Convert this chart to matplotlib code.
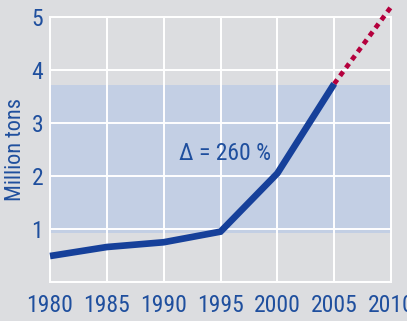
import matplotlib
matplotlib.use('Agg')
import matplotlib.pyplot as plt

years = [1980, 1985, 1990, 1995, 2000, 2005]
tons = [0.49, 0.66, 0.75, 0.95, 2.05, 3.74]
proj_years = [2005, 2010]
proj_tons = [3.74, 5.19]
band = [0.92, 3.72]
tick_years = [1980, 1985, 1990, 1995, 2000, 2005, 2010]
tick_vals = [1, 2, 3, 4, 5]

bg = '#dcdde0'
blue = '#16409a'
txt = '#1f4f9e'
fs = 17

plt.rcParams['font.family'] = ['Roboto Condensed', 'Archivo Narrow', 'PT Sans Narrow', 'DejaVu Sans']

fig = plt.figure(figsize=(4.07, 3.21), dpi=100, facecolor=bg)
ax = fig.add_axes([0.1229, 0.1215, 0.8378, 0.8255])
ax.set_facecolor(bg)
for s in ax.spines.values():
    s.set_visible(False)

ax.set_xlim(1980, 2010)
ax.set_ylim(0, 5)

# shaded band
ax.axhspan(band[0], band[1], color='#c3cfe4', zorder=1, lw=0)

# grid
for y in range(0, 6):
    ax.axhline(y, color='white', lw=1.4, zorder=2, clip_on=False)
for x in tick_years:
    ax.axvline(x, color='white', lw=1.4, zorder=2, clip_on=False)

ax.plot(years, tons, color=blue, lw=4.8, solid_joinstyle='miter', solid_capstyle='butt', zorder=4, clip_on=False)
ax.plot(proj_years, proj_tons, color='#b5003d', lw=3.4, dashes=(1.1, 1.0), dash_capstyle='butt', zorder=3, clip_on=False)

ax.text(1995.4, 2.42, '\u0394 = 260 %', color=txt, fontsize=fs, ha='center', va='center', zorder=5)

ax.set_xticks(tick_years)
ax.set_yticks(tick_vals)
ax.tick_params(length=0, labelsize=fs, labelcolor=txt)
ax.tick_params(axis='x', pad=9)
ax.tick_params(axis='y', pad=5)
ax.set_ylabel('Million tons', color=txt, fontsize=16, labelpad=4)

fig.savefig('out.png', dpi=100, facecolor=bg)
